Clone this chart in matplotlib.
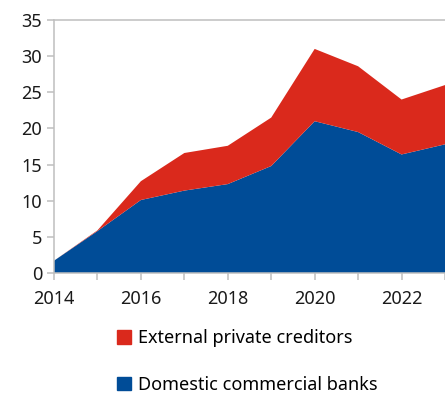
import numpy as np
import matplotlib
matplotlib.use("Agg")
import matplotlib.pyplot as plt
from matplotlib.patches import Patch

# --- donnees ---
annees = [2014, 2015, 2016, 2017, 2018, 2019, 2020, 2021, 2022, 2023]
banques = [1.7, 5.8, 10.1, 11.4, 12.3, 14.8, 21.0, 19.5, 16.4, 17.8]
externes = [0.0, 0.1, 2.6, 5.2, 5.3, 6.7, 10.0, 9.1, 7.6, 8.2]

rouge = '#DA291C'
bleu = '#004C97'
gris = '#BFBFBF'

plt.rcParams['font.family'] = ['Noto Sans', 'DejaVu Sans']

fig = plt.figure(figsize=(4.45, 3.96), dpi=100)
ax = fig.add_axes([54/445, 1 - 273/396, 1 - 54/445, 253/396])

ax.stackplot(annees, banques, externes, colors=[bleu, rouge], lw=0)

ax.set_xlim(2014, 2023)
ax.set_ylim(0, 35)
ax.set_xticks(range(2014, 2024))
ax.set_xticklabels([str(a) if a % 2 == 0 else '' for a in range(2014, 2024)])
ax.set_yticks(range(0, 36, 5))

ax.spines['right'].set_visible(False)
for s in ['left', 'bottom', 'top']:
    ax.spines[s].set_color(gris)
    ax.spines[s].set_linewidth(1.1)
ax.tick_params(colors=gris, labelcolor='#1a1a1a', labelsize=13, length=5, width=1.1)
ax.tick_params(axis='x', pad=7)

poignees = [Patch(color=rouge), Patch(color=bleu)]
fig.legend(poignees, ['External private creditors', 'Domestic commercial banks'],
           loc='upper left', bbox_to_anchor=(110/445, 1 - 322/396),
           frameon=False, fontsize=13, handlelength=0.75, handleheight=0.75,
           handletextpad=0.4, labelspacing=1.6, borderaxespad=0)

fig.savefig('out.png', dpi=100)
